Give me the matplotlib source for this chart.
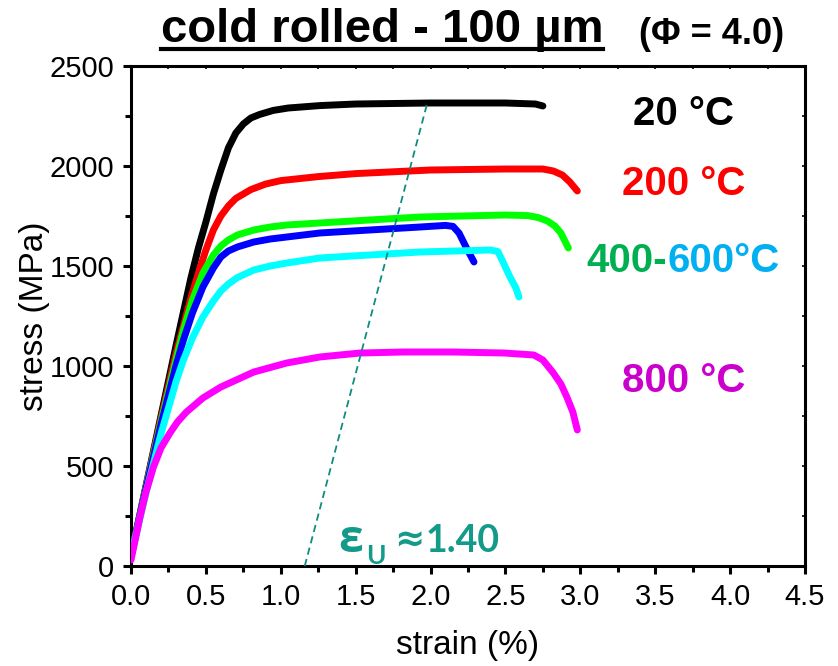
import matplotlib
matplotlib.use("Agg")
import matplotlib.pyplot as plt
from matplotlib.lines import Line2D
from matplotlib.ticker import MultipleLocator, FormatStrFormatter

plt.rcParams['font.family'] = ['Liberation Sans', 'DejaVu Sans']

# stress-strain curves
strain_20 = [0.0, 0.1, 0.2, 0.3, 0.4, 0.45, 0.5, 0.55, 0.6, 0.65, 0.7, 0.75, 0.8, 0.86, 0.95, 1.05, 1.26, 1.5, 2.0, 2.5, 2.7, 2.75]
stress_20 = [50, 400, 750, 1100, 1440, 1590, 1720, 1860, 1980, 2090, 2165, 2210, 2240, 2258, 2278, 2290, 2302, 2310, 2315, 2315, 2310, 2300]

strain_200 = [0.0, 0.1, 0.2, 0.3, 0.4, 0.45, 0.5, 0.55, 0.6, 0.65, 0.7, 0.8, 0.9, 1.0, 1.25, 1.5, 2.0, 2.5, 2.75, 2.82, 2.88, 2.93, 2.98]
stress_200 = [50, 395, 735, 1060, 1340, 1465, 1580, 1680, 1750, 1800, 1838, 1882, 1910, 1927, 1947, 1962, 1980, 1985, 1985, 1975, 1955, 1920, 1875]

strain_400 = [0.0, 0.1, 0.2, 0.3, 0.35, 0.41, 0.48, 0.55, 0.6, 0.65, 0.71, 0.82, 0.93, 1.04, 1.26, 1.48, 1.93, 2.5, 2.65, 2.72, 2.78, 2.83, 2.87, 2.92]
stress_400 = [50, 390, 720, 1030, 1180, 1330, 1465, 1555, 1600, 1630, 1655, 1680, 1695, 1705, 1715, 1725, 1745, 1755, 1752, 1742, 1725, 1700, 1665, 1590]

strain_600a = [0.0, 0.1, 0.2, 0.3, 0.35, 0.41, 0.48, 0.55, 0.6, 0.65, 0.71, 0.82, 0.93, 1.04, 1.26, 1.48, 1.93, 2.1, 2.15, 2.19, 2.24, 2.29]
stress_600a = [50, 385, 705, 1000, 1130, 1265, 1395, 1490, 1545, 1575, 1595, 1620, 1635, 1645, 1665, 1675, 1695, 1703, 1698, 1665, 1590, 1520]

strain_600b = [0.0, 0.1, 0.2, 0.3, 0.35, 0.41, 0.48, 0.55, 0.6, 0.65, 0.71, 0.82, 0.93, 1.04, 1.26, 1.48, 1.93, 2.4, 2.45, 2.49, 2.53, 2.57, 2.59]
stress_600b = [50, 365, 660, 920, 1030, 1140, 1245, 1325, 1375, 1410, 1442, 1480, 1500, 1515, 1540, 1550, 1570, 1580, 1572, 1510, 1445, 1390, 1345]

strain_800 = [0.0, 0.06, 0.1, 0.15, 0.2, 0.26, 0.31, 0.37, 0.48, 0.6, 0.82, 1.04, 1.26, 1.53, 1.82, 2.15, 2.49, 2.69, 2.75, 2.82, 2.87, 2.91, 2.95, 2.98]
stress_800 = [30, 245, 370, 495, 590, 665, 720, 770, 840, 895, 970, 1015, 1045, 1065, 1070, 1070, 1065, 1055, 1030, 965, 910, 845, 770, 680]

# uniform elongation guide line
eps_line_x = [1.16, 1.98]
eps_line_y = [0, 2320]

curves = [
    (strain_20, stress_20, '#000000'),
    (strain_200, stress_200, '#FF0000'),
    (strain_400, stress_400, '#00FF00'),
    (strain_600a, stress_600a, '#0000FF'),
    (strain_600b, stress_600b, '#00FFFF'),
    (strain_800, stress_800, '#FF00FF'),
]

W, H = 838, 666
fig = plt.figure(figsize=(W / 100, H / 100), dpi=100)
ax = fig.add_axes([131 / W, 1 - 566 / H, 674 / W, 500 / H])

for x, y, c in curves:
    ax.plot(x, y, color=c, lw=5, solid_capstyle='round', solid_joinstyle='round', zorder=3)

ax.plot(eps_line_x, eps_line_y, color='#0E8C80', lw=1.3, ls=(0, (4, 2.5)), zorder=4)

ax.set_xlim(0, 4.5)
ax.set_ylim(0, 2500)
ax.xaxis.set_major_locator(MultipleLocator(0.5))
ax.xaxis.set_minor_locator(MultipleLocator(0.25))
ax.yaxis.set_major_locator(MultipleLocator(500))
ax.yaxis.set_minor_locator(MultipleLocator(250))
ax.xaxis.set_major_formatter(FormatStrFormatter('%.1f'))

for s in ax.spines.values():
    s.set_linewidth(2.2)
ax.tick_params(which='major', direction='out', length=6, width=2.2, labelsize=21, pad=6)
ax.tick_params(which='minor', direction='out', length=4, width=2.2)

# small inward ticks on top and right
secx = ax.secondary_xaxis('top')
secx.xaxis.set_major_locator(MultipleLocator(0.25))
secx.tick_params(direction='in', length=2.5, width=1.2, labeltop=False)
secy = ax.secondary_yaxis('right')
secy.yaxis.set_major_locator(MultipleLocator(250))
secy.tick_params(direction='in', length=2.5, width=1.2, labelright=False)

ax.set_xlabel('strain (%)', fontsize=24, labelpad=14)
ax.set_ylabel('stress (MPa)', fontsize=24, labelpad=0)

# temperature labels
fig.text(683 / W, 1 - 125 / H, '20 °C', fontsize=29, weight='bold', color='#000000', ha='center', va='baseline')
fig.text(684 / W, 1 - 195 / H, '200 °C', fontsize=29, weight='bold', color='#FF0000', ha='center', va='baseline')
fig.text(667 / W, 1 - 272 / H, '400-', fontsize=29, weight='bold', color='#00B050', ha='right', va='baseline')
fig.text(667 / W, 1 - 272 / H, '600°C', fontsize=29, weight='bold', color='#00B0F0', ha='left', va='baseline')
fig.text(684 / W, 1 - 392 / H, '800 °C', fontsize=29, weight='bold', color='#CC00CC', ha='center', va='baseline')

# uniform elongation label
teal = '#139A88'
fig.text(338 / W, 1 - 552 / H, 'ε', fontsize=32, weight='bold', color=teal, family=['Open Sans', 'DejaVu Sans'], va='baseline')
fig.text(366 / W, 1 - 564 / H, 'U', fontsize=19, weight='bold', color=teal, family=['Lato', 'DejaVu Sans'], va='baseline')
fig.text(394 / W, 1 - 551 / H, '≈', fontsize=26, weight='bold', color=teal, family=['DejaVu Sans'], va='baseline')
fig.text(426 / W, 1 - 552 / H, '1.40', fontsize=27, weight='bold', color=teal, family=['Lato', 'DejaVu Sans'], va='baseline')

# title with underline
title = fig.text(382 / W, 1 - 42 / H, 'cold rolled - 100 µm', fontsize=34, weight='bold', ha='center', va='baseline')
fig.text(712 / W, 1 - 44 / H, '(Φ = 4.0)', fontsize=26, weight='bold', ha='center', va='baseline')

fig.canvas.draw()
bb = title.get_window_extent().transformed(fig.transFigure.inverted())
uy = 1 - 49 / H
fig.add_artist(Line2D([bb.x0, bb.x1], [uy, uy], transform=fig.transFigure, color='black', lw=3))

fig.savefig('out.png', dpi=100)
